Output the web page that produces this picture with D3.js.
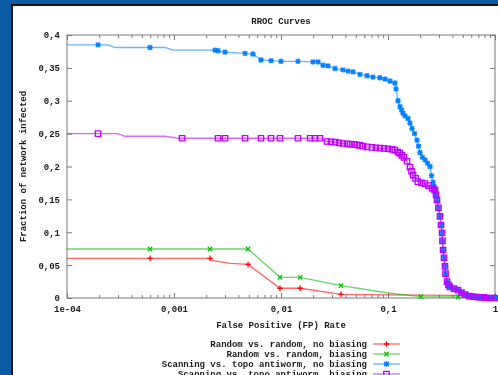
<!DOCTYPE html>
<html>
<head>
<meta charset="utf-8">
<script src="https://cdn.jsdelivr.net/npm/d3@7"></script>
<style>
  body { margin: 0; background: #0b5ba4; }
  svg { display: block; filter: blur(0.35px); }
</style>
</head>
<body>
<div id="chart"></div>
<script>
// Tick values and labels (gnuplot style, comma decimals)
const fprTicks = [1e-4, 1e-3, 1e-2, 1e-1, 1];
const fprTickLabels = ["1e-04", "0,001", "0,01", "0,1", "1"];
const fracTicks = [0, 0.05, 0.1, 0.15, 0.2, 0.25, 0.3, 0.35, 0.4];
const fracTickLabels = ["0", "0,05", "0,1", "0,15", "0,2", "0,25", "0,3", "0,35", "0,4"];

const legendLabels = [
  "Random vs. random, no biasing",
  "Random vs. random, biasing",
  "Scanning vs. topo antiworm, no biasing",
  "Scanning vs. topo antiworm, biasing",
];

// rows: [false positive rate, fraction infected, sample point (1) or plain vertex (0)]
const redRows = [
  [1e-4, 0.0604, 0], [5.97e-4, 0.0604, 1], [2.17e-3, 0.0604, 1], [2.31e-3, 0.0567, 0],
  [3.34e-3, 0.0528, 0], [4.92e-3, 0.051, 1], [9.79e-3, 0.0148, 1], [0.0151, 0.0148, 1],
  [0.0364, 0.0056, 1], [0.1, 0.0047, 0], [0.2, 0.0045, 0], [0.45, 0.004, 0], [1, 0, 0],
];

const greenRows = [
  [1e-4, 0.0745, 0], [5.97e-4, 0.0745, 1], [2.17e-3, 0.0745, 1], [4.92e-3, 0.0745, 1],
  [9.79e-3, 0.0315, 1], [0.0151, 0.0315, 1], [0.0364, 0.0187, 1], [0.1, 0.0076, 0],
  [0.203, 0.002, 1], [0.451, 0.0015, 1], [1, 0, 0],
];

const blueRows = [
  [1e-4, 0.385, 0], [1.95e-4, 0.385, 1], [2.42e-4, 0.385, 0], [2.81e-4, 0.381, 0],
  [5.97e-4, 0.381, 1], [8.2e-4, 0.381, 0], [9.8e-4, 0.377, 0], [2.42e-3, 0.377, 1],
  [2.58e-3, 0.376, 1], [3.0e-3, 0.374, 1], [4.61e-3, 0.372, 1], [5.47e-3, 0.371, 1],
  [6.5e-3, 0.362, 1], [8.07e-3, 0.361, 1], [0.01, 0.36, 1], [0.0144, 0.36, 1],
  [0.0199, 0.359, 1], [0.0222, 0.359, 1], [0.0247, 0.354, 1], [0.0275, 0.353, 1],
  [0.032, 0.349, 1], [0.0379, 0.347, 1], [0.0423, 0.345, 1], [0.0471, 0.344, 1],
  [0.0547, 0.34, 1], [0.0637, 0.338, 1], [0.0724, 0.336, 1], [0.0841, 0.335, 1],
  [0.0938, 0.333, 1], [0.1045, 0.33, 1], [0.116, 0.327, 1], [0.1188, 0.318, 1],
  [0.124, 0.3, 1], [0.1294, 0.291, 1], [0.1337, 0.286, 1], [0.138, 0.281, 1],
  [0.144, 0.277, 1], [0.1538, 0.273, 1], [0.1606, 0.266, 1], [0.1675, 0.258, 1],
  [0.177, 0.25, 1], [0.1866, 0.24, 1], [0.193, 0.231, 1], [0.199, 0.221, 1],
  [0.21, 0.214, 1], [0.222, 0.21, 1], [0.234, 0.205, 1], [0.247, 0.2, 1],
  [0.255, 0.186, 1], [0.2636, 0.176, 1], [0.269, 0.17, 1], [0.2748, 0.164, 1],
];

const purpleRows = [
  [1e-4, 0.25, 0], [1.95e-4, 0.25, 1], [3.0e-4, 0.25, 0], [3.48e-4, 0.246, 0],
  [8.2e-4, 0.246, 0], [1.09e-3, 0.243, 0], [1.19e-3, 0.243, 1], [2.58e-3, 0.243, 1],
  [3.0e-3, 0.243, 1], [4.61e-3, 0.243, 1], [6.5e-3, 0.243, 1], [8.07e-3, 0.243, 1],
  [9.79e-3, 0.243, 1], [0.0144, 0.243, 1], [0.0187, 0.243, 1], [0.0208, 0.243, 1],
  [0.0231, 0.243, 1], [0.0269, 0.238, 1], [0.0293, 0.2375, 1], [0.032, 0.237, 1],
  [0.0348, 0.236, 1], [0.0379, 0.235, 1], [0.0414, 0.2345, 1], [0.0442, 0.234, 1],
  [0.0481, 0.2335, 1], [0.0513, 0.233, 1], [0.0547, 0.232, 1], [0.0583, 0.231, 1],
  [0.0637, 0.23, 1], [0.0708, 0.229, 1], [0.0772, 0.2285, 1], [0.0841, 0.228, 1],
  [0.0918, 0.2275, 1], [0.1, 0.227, 1], [0.109, 0.226, 1], [0.116, 0.225, 1],
  [0.124, 0.222, 1], [0.1294, 0.22, 1], [0.135, 0.217, 1], [0.141, 0.214, 1],
  [0.1507, 0.208, 1], [0.1606, 0.199, 1], [0.166, 0.193, 1], [0.1715, 0.187, 1],
  [0.181, 0.182, 1], [0.19, 0.177, 1], [0.2056, 0.175, 1], [0.222, 0.174, 1],
  [0.239, 0.171, 1], [0.258, 0.167, 1], [0.269, 0.165, 1], [0.2748, 0.164, 1],
];

// both scanning curves share the same final drop
const scanTailRows = [
  [0.281, 0.157, 1], [0.287, 0.149, 1], [0.296, 0.137, 1], [0.306, 0.124, 1],
  [0.313, 0.111, 1], [0.32, 0.099, 1], [0.323, 0.087, 1], [0.327, 0.073, 1],
  [0.334, 0.061, 1], [0.341, 0.048, 1], [0.345, 0.037, 1], [0.356, 0.025, 1],
  [0.367, 0.02, 1], [0.379, 0.017, 1], [0.414, 0.0144, 1], [0.451, 0.012, 1],
  [0.486, 0.0084, 1], [0.525, 0.005, 1], [0.572, 0.003, 1], [0.622, 0.002, 1],
  [0.672, 0.0015, 1], [0.724, 0.001, 1], [0.789, 0.0008, 1], [0.841, 0, 1],
  [0.918, 0, 1], [1, 0, 1],
];

const W = 498, H = 375;
const plot = { left: 67, right: 495, top: 35, bottom: 298 };
const font = "'Liberation Mono', 'DejaVu Sans Mono', monospace";
const textColor = "#1a1a1a";
const axisColor = "#7a7a7a";

const series = [
  { rows: redRows, color: "#ff0000", symbol: "plus" },
  { rows: greenRows, color: "#00c000", symbol: "cross" },
  { rows: blueRows.concat(scanTailRows), color: "#0080ff", symbol: "star" },
  { rows: purpleRows.concat(scanTailRows), color: "#c000ff", symbol: "square" },
];

const svg = d3.select("#chart").append("svg").attr("width", W).attr("height", H);

// slide background, black frame, white page
svg.append("rect").attr("width", W).attr("height", H).attr("fill", "#0b5ba4");
svg.append("rect").attr("x", 11).attr("y", 4).attr("width", W).attr("height", H).attr("fill", "#141414");
svg.append("rect").attr("x", 13).attr("y", 6).attr("width", W).attr("height", H).attr("fill", "#ffffff");

const x = d3.scaleLog().domain([1e-4, 1]).range([plot.left, plot.right]);
const y = d3.scaleLinear().domain([0, 0.4]).range([plot.bottom, plot.top]);

// minor ticks for the log axis (2..9 of every decade)
const minorTicks = [];
for (let e = -4; e < 0; e++) {
  for (let k = 2; k <= 9; k++) minorTicks.push(k * Math.pow(10, e));
}

function styleAxis(g) {
  g.select(".domain").remove();
  g.selectAll("line").attr("stroke", axisColor);
  g.selectAll("text")
    .attr("font-family", font)
    .attr("font-weight", "bold")
    .attr("font-size", "9px")
    .attr("fill", textColor);
}

svg.append("g")
  .attr("transform", `translate(0,${plot.bottom})`)
  .call(d3.axisBottom(x).tickValues(fprTicks).tickSize(-5).tickSizeOuter(0).tickPadding(8)
    .tickFormat((d, i) => fprTickLabels[i]))
  .call(styleAxis);
svg.append("g")
  .attr("transform", `translate(0,${plot.bottom})`)
  .call(d3.axisBottom(x).tickValues(minorTicks).tickSize(-3).tickSizeOuter(0).tickFormat(""))
  .call(styleAxis);
svg.append("g")
  .attr("transform", `translate(0,${plot.top})`)
  .call(d3.axisTop(x).tickValues(fprTicks).tickSize(-5).tickSizeOuter(0).tickFormat(""))
  .call(styleAxis);
svg.append("g")
  .attr("transform", `translate(0,${plot.top})`)
  .call(d3.axisTop(x).tickValues(minorTicks).tickSize(-3).tickSizeOuter(0).tickFormat(""))
  .call(styleAxis);
svg.append("g")
  .attr("transform", `translate(${plot.left},0)`)
  .call(d3.axisLeft(y).tickValues(fracTicks).tickSize(-5).tickSizeOuter(0).tickPadding(7)
    .tickFormat((d, i) => fracTickLabels[i]))
  .call(styleAxis);
svg.append("g")
  .attr("transform", `translate(${plot.right},0)`)
  .call(d3.axisRight(y).tickValues(fracTicks).tickSize(-5).tickSizeOuter(0).tickFormat(""))
  .call(styleAxis);

// plot border
svg.append("rect")
  .attr("x", plot.left).attr("y", plot.top)
  .attr("width", plot.right - plot.left).attr("height", plot.bottom - plot.top)
  .attr("fill", "none").attr("stroke", axisColor).attr("stroke-width", 1);

svg.append("clipPath").attr("id", "plot-clip")
  .append("rect")
  .attr("x", plot.left).attr("y", plot.top)
  .attr("width", plot.right - plot.left).attr("height", plot.bottom - plot.top);

function symbolPath(type) {
  const s = 2.7;
  const plus = `M${-s},0H${s}M0,${-s}V${s}`;
  const c = s - 0.5;
  const cross = `M${-c},${-c}L${c},${c}M${-c},${c}L${c},${-c}`;
  if (type === "plus") return plus;
  if (type === "cross") return cross;
  if (type === "star") return plus + cross;
  return `M${-s},${-s}H${s}V${s}H${-s}Z`;
}

const line = d3.line().x((d) => x(d[0])).y((d) => y(d[1]));

series.forEach((s) => {
  svg.append("path")
    .datum(s.rows)
    .attr("clip-path", "url(#plot-clip)")
    .attr("d", line)
    .attr("fill", "none")
    .attr("stroke", s.color)
    .attr("stroke-opacity", 0.6)
    .attr("stroke-width", 1.3);

  svg.append("g")
    .selectAll("path")
    .data(s.rows.filter((d) => d[2] === 1))
    .enter()
    .append("path")
    .attr("transform", (d) => `translate(${x(d[0])},${y(d[1])})`)
    .attr("d", symbolPath(s.symbol))
    .attr("fill", "none")
    .attr("stroke", s.color)
    .attr("stroke-width", 1.3);
});

// titles
svg.append("text")
  .attr("x", (plot.left + plot.right) / 2).attr("y", 24)
  .attr("text-anchor", "middle")
  .attr("font-family", font).attr("font-weight", "bold").attr("font-size", "9px")
  .attr("fill", textColor)
  .text("RROC Curves");

svg.append("text")
  .attr("x", (plot.left + plot.right) / 2).attr("y", 328)
  .attr("text-anchor", "middle")
  .attr("font-family", font).attr("font-weight", "bold").attr("font-size", "9px")
  .attr("fill", textColor)
  .text("False Positive (FP) Rate");

svg.append("text")
  .attr("transform", `translate(26,${(plot.top + plot.bottom) / 2}) rotate(-90)`)
  .attr("text-anchor", "middle")
  .attr("font-family", font).attr("font-weight", "bold").attr("font-size", "9px")
  .attr("fill", textColor)
  .text("Fraction of network infected");

// legend (last row runs past the bottom edge, as in the original frame)
const legend = svg.append("g")
  .selectAll("g")
  .data(series)
  .enter()
  .append("g")
  .attr("transform", (d, i) => `translate(0,${344 + i * 10})`);

legend.append("text")
  .attr("x", 367).attr("y", 3)
  .attr("text-anchor", "end")
  .attr("font-family", font).attr("font-weight", "bold").attr("font-size", "9px")
  .attr("fill", textColor)
  .text((d, i) => legendLabels[i]);

legend.append("line")
  .attr("x1", 373).attr("x2", 400)
  .attr("stroke", (d) => d.color).attr("stroke-opacity", 0.6).attr("stroke-width", 1.3);

legend.append("path")
  .attr("transform", "translate(386.5,0)")
  .attr("d", (d) => symbolPath(d.symbol))
  .attr("fill", "none")
  .attr("stroke", (d) => d.color)
  .attr("stroke-width", 1.3);
</script>
</body>
</html>
